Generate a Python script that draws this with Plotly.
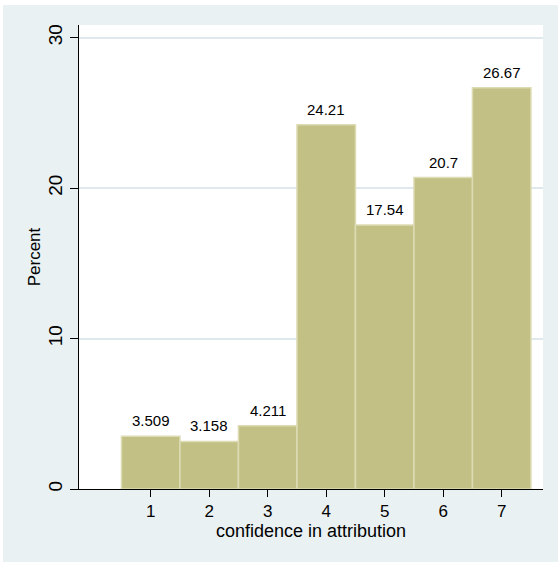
import plotly.graph_objects as go

categories = [1, 2, 3, 4, 5, 6, 7]
percents = [3.509, 3.158, 4.211, 24.21, 17.54, 20.70, 26.67]
y_ticks = [0, 10, 20, 30]

BG = "#eaf1f3"
BAR = "#c3c086"
BAR_LINE = "#dddbb4"
GRID = "#dfe9ed"
FONT = "Liberation Sans, Arial, sans-serif"

fig = go.Figure()
fig.add_trace(go.Bar(
    x=categories, y=percents, width=1,
    marker=dict(color=BAR, line=dict(color=BAR_LINE, width=1.5)),
    hoverinfo="skip",
))

for c, v in zip(categories, percents):
    fig.add_annotation(x=c, y=v, text=f"{v:.4g}", showarrow=False,
                       yanchor="bottom", yshift=5,
                       font=dict(family=FONT, size=15, color="black"))

fig.update_layout(
    width=555, height=557,
    margin=dict(l=76, r=15, t=20, b=73),
    paper_bgcolor=BG, plot_bgcolor="white",
    showlegend=False,
    font=dict(family=FONT, color="black"),
    xaxis=dict(range=[-0.226, 7.706], tickvals=categories, ticks="outside",
               ticklen=7, tickcolor="black", showline=True, linecolor="black",
               linewidth=1, showgrid=False, zeroline=False,
               tickfont=dict(size=17),
               title=dict(text="confidence in attribution", font=dict(size=18), standoff=2)),
    yaxis=dict(range=[0, 30.84], tickvals=y_ticks, ticks="outside",
               ticklen=8, tickcolor="black", showline=True, linecolor="black",
               linewidth=1, showgrid=True, gridcolor=GRID, gridwidth=1.5,
               zeroline=False, tickangle=-90, tickfont=dict(size=19),
               title=dict(text="Percent", font=dict(size=17), standoff=0)),
)

fig.write_html("out.html", post_script="document.body.style.margin='5px 0 0 3px';")
